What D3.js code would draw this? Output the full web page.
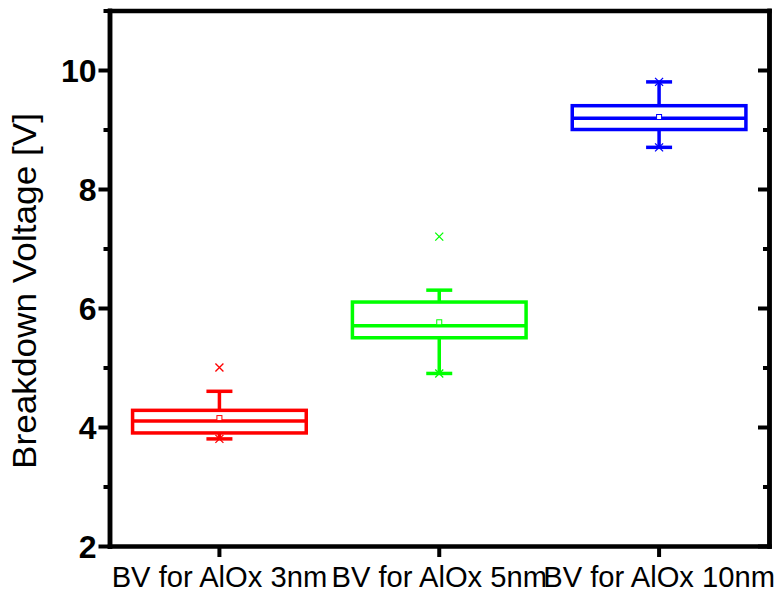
<!DOCTYPE html>
<html>
<head>
<meta charset="utf-8">
<script src="https://cdn.jsdelivr.net/npm/d3@7"></script>
<style>
  html, body { margin: 0; padding: 0; background: #fff; }
  svg { display: block; }
</style>
</head>
<body>
<svg id="chart" width="781" height="593"></svg>
<script>
// ---- data ----
const categories = ["BV for AlOx 3nm", "BV for AlOx 5nm", "BV for AlOx 10nm"];
const q1 = [3.9, 5.5, 9.0];
const median = [4.1, 5.7, 9.19];
const q3 = [4.28, 6.1, 9.4];
const whiskerLow = [3.8, 4.9, 8.7];
const whiskerHigh = [4.6, 6.3, 9.8];
const means = [4.15, 5.76, 9.21];
const crossMarks = [[5.0, 3.8], [7.2, 4.9], [9.8, 8.7]];
const colors = ["#ff0000", "#00ff00", "#0000ff"];
const yMajorTicks = [2, 4, 6, 8, 10];
const yMinorTicks = [3, 5, 7, 9, 11];
const yLabel = "Breakdown Voltage [V]";

// ---- layout ----
const svg = d3.select("#chart");
const L = 109.5, R = 769, T = 10.5, B = 546;
const x = d3.scaleBand().domain(categories).range([L, R]).padding(0);
const y = d3.scaleLinear().domain([2, 11]).range([B, T]);
const font = "'Liberation Sans', Arial, sans-serif";

const boxW = x.bandwidth() * 0.79;
const capW = 26;
const sw = 3.5;

// ---- boxes ----
categories.forEach((c, i) => {
  const cx = x(c) + x.bandwidth() / 2;
  const col = colors[i];
  const g = svg.append("g");
  g.append("line").attr("x1", cx).attr("x2", cx).attr("y1", y(q3[i])).attr("y2", y(whiskerHigh[i]))
    .attr("stroke", col).attr("stroke-width", sw);
  g.append("line").attr("x1", cx).attr("x2", cx).attr("y1", y(q1[i])).attr("y2", y(whiskerLow[i]))
    .attr("stroke", col).attr("stroke-width", sw);
  [whiskerHigh[i], whiskerLow[i]].forEach(v => {
    g.append("line").attr("x1", cx - capW / 2).attr("x2", cx + capW / 2).attr("y1", y(v)).attr("y2", y(v))
      .attr("stroke", col).attr("stroke-width", sw);
  });
  g.append("rect").attr("x", cx - boxW / 2).attr("y", y(q3[i]))
    .attr("width", boxW).attr("height", y(q1[i]) - y(q3[i]))
    .attr("fill", "none").attr("stroke", col).attr("stroke-width", sw);
  g.append("line").attr("x1", cx - boxW / 2).attr("x2", cx + boxW / 2)
    .attr("y1", y(median[i])).attr("y2", y(median[i]))
    .attr("stroke", col).attr("stroke-width", sw);
  g.append("rect").attr("x", cx - 2.5).attr("y", y(means[i]) - 2.5).attr("width", 5).attr("height", 5)
    .attr("fill", "#fff").attr("stroke", col).attr("stroke-width", 1);
  crossMarks[i].forEach(v => {
    const s = 4;
    g.append("path").attr("d", `M${cx - s},${y(v) - s}L${cx + s},${y(v) + s}M${cx - s},${y(v) + s}L${cx + s},${y(v) - s}`)
      .attr("stroke", col).attr("stroke-width", 1.3).attr("fill", "none");
  });
});

// ---- axes ----
const axisW = 4.5;
const leftAxis = svg.append("g").attr("transform", `translate(${L},0)`)
  .call(d3.axisLeft(y).tickValues(yMajorTicks).tickSize(11).tickSizeOuter(0).tickFormat(d3.format("d")));
const leftMinor = svg.append("g").attr("transform", `translate(${L},0)`)
  .call(d3.axisLeft(y).tickValues(yMinorTicks).tickSize(6).tickSizeOuter(0).tickFormat(""));
const rightAxis = svg.append("g").attr("transform", `translate(${R},0)`)
  .call(d3.axisLeft(y).tickValues(yMajorTicks).tickSize(11).tickSizeOuter(0).tickFormat(""));
const rightMinor = svg.append("g").attr("transform", `translate(${R},0)`)
  .call(d3.axisLeft(y).tickValues(yMinorTicks).tickSize(6).tickSizeOuter(0).tickFormat(""));
const bottomAxis = svg.append("g").attr("transform", `translate(0,${B})`)
  .call(d3.axisBottom(x).tickSize(11).tickSizeOuter(0));
const topAxis = svg.append("g").attr("transform", `translate(0,${T})`)
  .call(d3.axisTop(x).tickSize(0).tickSizeOuter(0).tickFormat(""));

[leftAxis, leftMinor, rightAxis, rightMinor, bottomAxis, topAxis].forEach(a => {
  a.selectAll("path.domain").attr("stroke", "#000").attr("stroke-width", axisW).attr("stroke-linecap", "square");
  a.selectAll(".tick line").attr("stroke", "#000").attr("stroke-width", 4);
});

leftAxis.selectAll(".tick text")
  .attr("font-family", font).attr("font-size", 32).attr("font-weight", "bold")
  .attr("fill", "#000").attr("x", -13).attr("dy", "0.36em");

bottomAxis.selectAll(".tick text")
  .attr("font-family", font).attr("font-size", 30).attr("fill", "#000")
  .attr("y", 40.5).attr("dy", 0)
  .each(function () {
    const w = this.getComputedTextLength();
    d3.select(this).attr("textLength", w * 0.972).attr("lengthAdjust", "spacingAndGlyphs");
  });

// y label
svg.append("text")
  .attr("transform", `translate(35.5,291) rotate(-90)`)
  .attr("text-anchor", "middle")
  .attr("font-family", font).attr("font-size", 33).attr("fill", "#000")
  .attr("textLength", 356).attr("lengthAdjust", "spacingAndGlyphs")
  .text(yLabel);
</script>
</body>
</html>
